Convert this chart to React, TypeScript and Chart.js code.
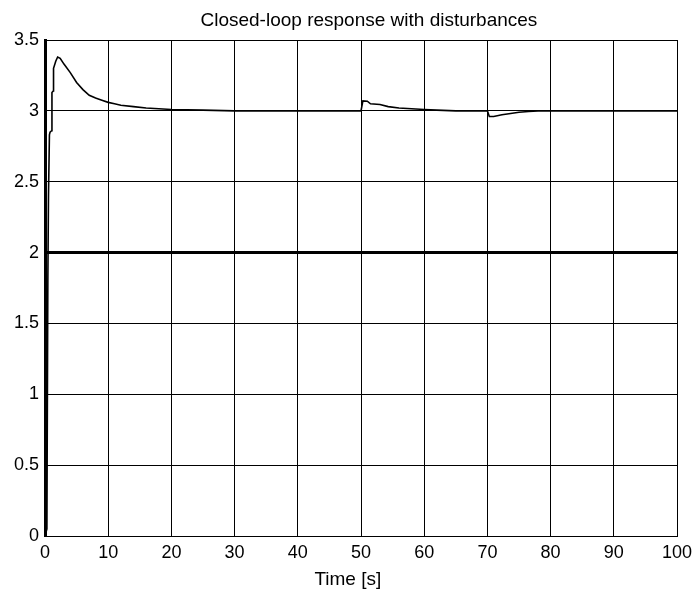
import React, { useEffect, useRef } from "react";
import { Chart, registerables } from "chart.js";

Chart.register(...registerables);

const titleText = "   Closed-loop response with disturbances";
const xAxisLabel = "Time [s]     ";

const responseTime = [
  0, 0.3, 0.45, 0.55, 0.7, 0.8, 1.05, 1.1, 1.3, 1.35, 1.7, 2.0, 2.4, 3, 4, 5, 6, 7, 8, 9, 10, 11, 12, 14, 16, 18, 20, 25, 30, 40, 50,
  50.3, 51, 51.5, 53, 54.3, 56, 58, 60, 62, 65, 70,
  70.3, 71, 72.3, 73.4, 75, 76.5, 78, 80, 90, 100,
];
const responseValue = [
  0, 0.05, 1.8, 2.4, 2.83, 2.85, 2.86, 3.13, 3.14, 3.3, 3.35, 3.38, 3.37, 3.33, 3.27, 3.2, 3.15, 3.11, 3.09, 3.075, 3.06, 3.05, 3.04, 3.03, 3.02, 3.015, 3.01, 3.005, 3.0, 3.0, 3.0,
  3.07, 3.068, 3.05, 3.045, 3.03, 3.02, 3.015, 3.01, 3.005, 3.0, 3.0,
  2.96, 2.96, 2.973, 2.98, 2.99, 2.995, 3.0, 3.0, 3.0, 3.0,
];

const levelTime = [0, 100];
const levelValue = [2, 2];

const xTicks = [0, 10, 20, 30, 40, 50, 60, 70, 80, 90, 100];
const yTicks = [0, 0.5, 1, 1.5, 2, 2.5, 3, 3.5];

const FONT = "'Liberation Sans', Arial, sans-serif";

export default function App() {
  const ref = useRef<HTMLCanvasElement | null>(null);

  useEffect(() => {
    document.body.style.margin = "0";
    const canvas = ref.current;
    if (!canvas) return;
    const chart = new Chart(canvas, {
      type: "line",
      data: {
        datasets: [
          {
            data: responseTime.map((t, i) => ({ x: t, y: responseValue[i] })),
            borderColor: "#000",
            borderWidth: 1.6,
            pointRadius: 0,
            tension: 0,
            fill: false,
          },
          {
            data: levelTime.map((t, i) => ({ x: t, y: levelValue[i] })),
            borderColor: "#000",
            borderWidth: 3,
            pointRadius: 0,
            fill: false,
          },
        ],
      },
      options: {
        responsive: false,
        animation: false,
        layout: { padding: { left: 0, right: 21, top: 0, bottom: 0 } },
        plugins: {
          legend: { display: false },
          tooltip: { enabled: false },
          title: {
            display: true,
            fullSize: false,
            text: titleText,
            color: "#000",
            font: { family: FONT, size: 19, weight: "normal" },
            padding: { top: 9, bottom: 8.2 },
          },
        },
        scales: {
          x: {
            type: "linear",
            min: 0,
            max: 100,
            afterBuildTicks: (s: any) => {
              s.ticks = xTicks.map((v) => ({ value: v }));
            },
            afterFit: (s: any) => {
              s.height = 57;
              s.paddingLeft = 0;
              s.paddingRight = 0;
            },
            grid: { color: "#000", lineWidth: 1, drawTicks: false },
            border: { display: true, color: "#000", width: 1 },
            ticks: {
              color: "#000",
              padding: 6,
              maxRotation: 0,
              autoSkip: false,
              font: { family: FONT, size: 18 },
              callback: (v: any) => `${v}`,
            },
            title: {
              display: true,
              text: xAxisLabel,
              color: "#000",
              font: { family: FONT, size: 19 },
              padding: { top: 0, bottom: 2 },
            },
          },
          y: {
            type: "linear",
            min: 0,
            max: 3.5,
            afterBuildTicks: (s: any) => {
              s.ticks = yTicks.map((v) => ({ value: v }));
            },
            afterFit: (s: any) => {
              s.width = 45;
              s.paddingTop = 0;
              s.paddingBottom = 0;
            },
            grid: { color: "#000", lineWidth: 1, drawTicks: false },
            border: { display: true, color: "#000", width: 3 },
            ticks: {
              color: "#000",
              padding: 6,
              autoSkip: false,
              font: { family: FONT, size: 18 },
              callback: (v: any) => `${v}`,
            },
          },
        },
      },
    });
    return () => chart.destroy();
  }, []);

  return (
    <div style={{ width: 698, height: 593, background: "#fff" }}>
      <canvas ref={ref} width={698} height={593} style={{ display: "block" }} />
    </div>
  );
}
